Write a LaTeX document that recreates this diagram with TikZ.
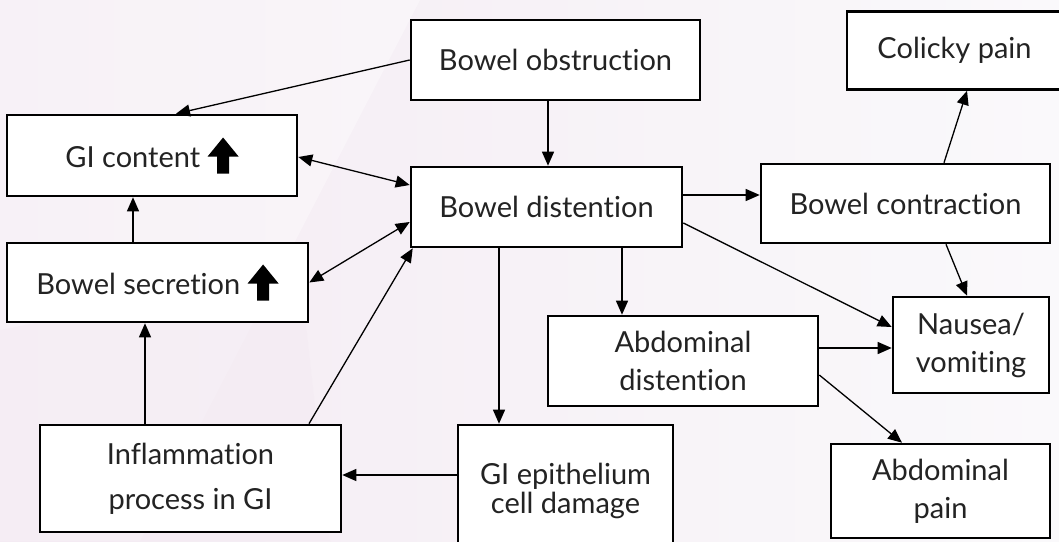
\documentclass[tikz,border=0pt]{standalone}
\usepackage{fontspec}
\setmainfont{Lato}[Ligatures=NoCommon]
\usetikzlibrary{arrows.meta}
\definecolor{hazeL}{RGB}{244,235,243}
\definecolor{hazeR}{RGB}{250,249,251}
\definecolor{ink}{RGB}{35,35,35}
% heavy upward arrow used after "GI content" and "Bowel secretion"
\newcommand{\heavyup}{\tikz[x=1pt,y=1pt,baseline=6pt]\fill[black] (-6,0) -- (-6,17) -- (-15.5,17) -- (0,36) -- (15.5,17) -- (6,17) -- (6,0) -- cycle;}
\begin{document}
\begin{tikzpicture}[x=1pt,y=-1pt,
  box/.style={draw=black, line width=2.6pt, fill=white, text=ink, align=center,
    inner sep=0pt, font=\fontsize{29}{38}\selectfont},
  link/.style={draw=black, line width=1.3pt, -{Triangle[length=14pt,width=12pt]}},
  both/.style={draw=black, line width=1.3pt, {Triangle[length=14pt,width=12pt]}-{Triangle[length=14pt,width=12pt]}}]
\useasboundingbox (0,0) rectangle (1059,541);
\clip (0,0) rectangle (1059,541);
\shade[left color=hazeL, right color=hazeR] (0,0) rectangle (1059,541);
\fill[white, opacity=0.35] (0,0) -- (420,0) -- (140,541) -- (0,541) -- cycle;
\fill[hazeL, opacity=0.5] (0,330) -- (300,270) -- (330,541) -- (0,541) -- cycle;

% boxes
\node[box, minimum width=289pt, minimum height=80pt] (obs) at (555.5,60) {Bowel obstruction};
\node[box, minimum width=271pt, minimum height=80pt] (dist) at (546.5,207) {Bowel distention};
\node[box, minimum width=290pt, minimum height=81pt] (gic) at (152,155.5) {GI content \heavyup};
\node[box, minimum width=301pt, minimum height=79pt] (sec) at (157.5,282.5) {Bowel secretion \heavyup};
\node[box, minimum width=301pt, minimum height=107pt, font=\fontsize{29}{45}\selectfont] (infl) at (190.5,478.5) {Inflammation\\process in GI};
\node[box, minimum width=215pt, minimum height=131pt, font=\fontsize{29}{29}\selectfont] (epi) at (565.5,490.5) {GI epithelium\\cell damage};
\node[box, minimum width=270pt, minimum height=90pt] (abdd) at (683,361) {Abdominal\\distention};
\node[box, minimum width=156pt, minimum height=96pt] (nau) at (971,345) {Nausea/\\vomiting};
\node[box, minimum width=219pt, minimum height=94pt] (abdp) at (940.5,491) {Abdominal\\pain};
\node[box, minimum width=215pt, minimum height=78pt] (col) at (954.5,50.5) {Colicky pain};
\node[box, minimum width=289pt, minimum height=79pt] (con) at (905.5,203.5) {Bowel contraction};

% connectors
\draw[link] (obs.west) -- ([xshift=24pt]gic.north);
\draw[link] ([xshift=-7.5pt]obs.south) -- ([xshift=1.5pt]dist.north);
\draw[both] ([yshift=-1.5pt]gic.east) -- ([yshift=22pt]dist.west);
\draw[both] (sec.east) -- ([yshift=-15pt]dist.west);
\draw[link] ([xshift=-24.5pt]sec.north) -- ([xshift=-24.5pt]sec.north |- gic.south);
\draw[link] ([xshift=-45.5pt]infl.north) -- ([xshift=-45.5pt]infl.north |- sec.south);
\draw[link] ([xshift=118.5pt]infl.north) -- ([xshift=3pt]dist.south west);
\draw[link] ([xshift=-47.5pt]dist.south) -- ([xshift=-47.5pt]dist.south |- epi.north);
\draw[link] ([xshift=75.5pt]dist.south) -- ([xshift=75.5pt]dist.south |- abdd.north);
\draw[link] ([yshift=12pt]dist.east) -- ([yshift=12pt]dist.east -| con.west);
\draw[link] ([xshift=38.5pt]con.north) -- ([xshift=12.5pt]col.south);
\draw[link] ([xshift=40.5pt]con.south) -- ([xshift=-4pt]nau.north);
\draw[link] ([yshift=-16pt]dist.east) -- ([yshift=18pt]nau.west);
\draw[link] ([yshift=13pt]abdd.east) -- ([yshift=13pt]abdd.east -| nau.west);
\draw[link] ([yshift=-14pt]abdd.east) -- ([xshift=-38.5pt]abdp.north);
\draw[link] ([yshift=15.5pt]epi.west) -- ([yshift=15.5pt]epi.west -| infl.east);
\end{tikzpicture}
\end{document}
